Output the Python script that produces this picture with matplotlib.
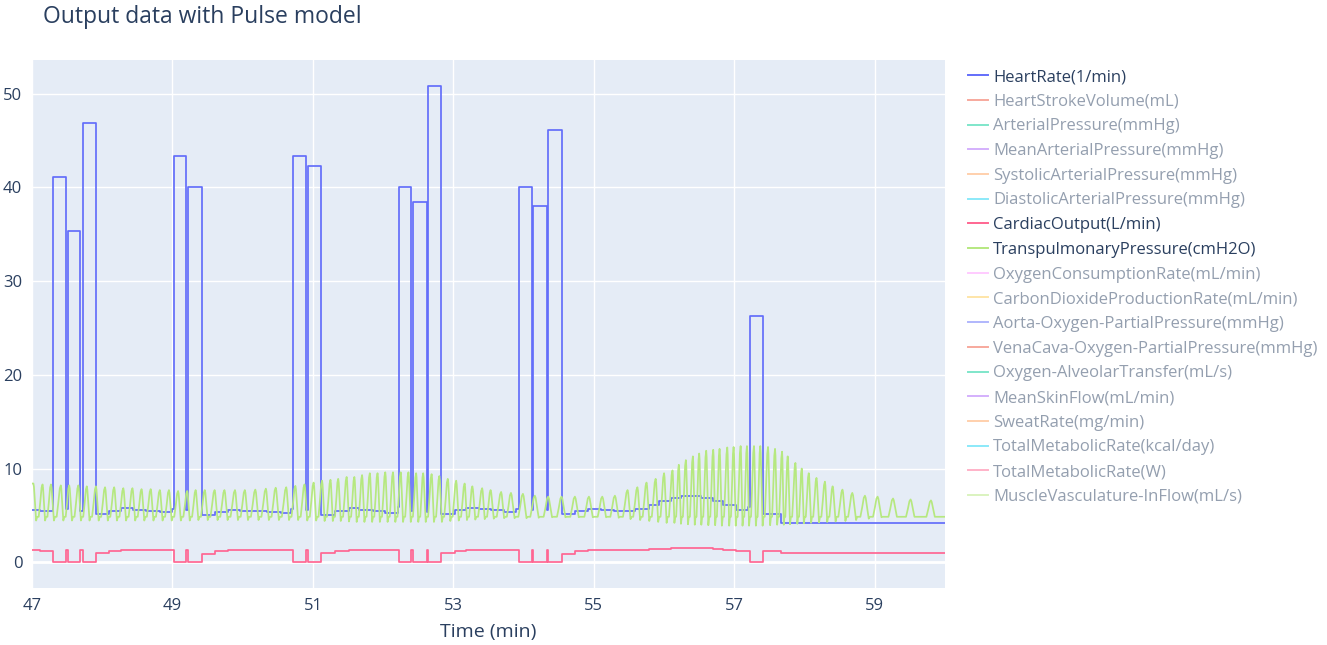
import numpy as np
import matplotlib
matplotlib.use("Agg")
import matplotlib.pyplot as plt
from matplotlib.lines import Line2D

# ---------------------------------------------------------------- data
# Heart rate and cardiac output: piecewise-constant segments (segment start, value)
SEG_START = [47.00, 47.11, 47.30, 47.48, 47.51, 47.69, 47.72, 47.91, 48.10, 48.27,
             48.44, 48.63, 48.82, 48.99, 49.02, 49.19, 49.22, 49.42, 49.60, 49.79,
             49.96, 50.34, 50.55, 50.69, 50.72, 50.90, 50.93, 51.11, 51.31, 51.52,
             51.66, 51.85, 52.03, 52.21, 52.23, 52.40, 52.42, 52.62, 52.64, 52.83,
             53.03, 53.18, 53.37, 53.53, 53.72, 53.89, 53.93, 54.12, 54.14, 54.33,
             54.35, 54.54, 54.73, 54.91, 55.10, 55.28, 55.59, 55.78, 55.93, 56.10,
             56.24, 56.53, 56.69, 56.84, 57.02, 57.19, 57.23, 57.41, 57.66, 60.00]
HEART_RATE = [5.60, 5.45, 41.1, 5.70, 35.3, 5.50, 46.9, 5.18, 5.46, 5.80,
              5.60, 5.46, 5.36, 5.70, 43.4, 5.60, 40.0, 5.00, 5.36, 5.60,
              5.50, 5.40, 5.30, 5.70, 43.4, 5.60, 42.25, 5.00, 5.46, 5.80,
              5.55, 5.45, 5.30, 5.90, 40.0, 5.50, 38.4, 5.40, 50.8, 5.20,
              5.54, 5.80, 5.64, 5.54, 5.36, 5.70, 40.0, 5.60, 38.0, 5.60,
              46.1, 5.10, 5.46, 5.70, 5.60, 5.50, 5.70, 6.10, 6.50, 6.85,
              7.03, 6.85, 6.55, 6.10, 5.55, 5.90, 26.3, 5.18, 4.15, 4.15]
CARDIAC_OUTPUT = [1.28, 1.25, 0.0, 1.30, 0.0, 1.30, 0.0, 1.00, 1.20, 1.35,
                  1.33, 1.30, 1.28, 1.30, 0.0, 1.30, 0.0, 0.93, 1.20, 1.35,
                  1.33, 1.30, 1.28, 1.30, 0.0, 1.30, 0.0, 1.00, 1.20, 1.35,
                  1.35, 1.33, 1.30, 1.35, 0.0, 1.30, 0.0, 1.30, 0.0, 1.00,
                  1.20, 1.35, 1.35, 1.33, 1.30, 1.35, 0.0, 1.30, 0.0, 1.30,
                  0.0, 0.93, 1.20, 1.28, 1.28, 1.28, 1.28, 1.42, 1.42, 1.53,
                  1.53, 1.53, 1.42, 1.28, 1.21, 1.21, 0.0, 1.21, 0.96, 0.96]

# Transpulmonary pressure: one entry per breath (time of peak, peak, trough)
BREATH_T = [47.02, 47.15, 47.27, 47.41, 47.53, 47.66, 47.78, 47.91, 48.04, 48.17,
            48.30, 48.43, 48.56, 48.69, 48.82, 48.95, 49.08, 49.21, 49.33, 49.46,
            49.60, 49.74, 49.89, 50.03, 50.18, 50.33, 50.47, 50.62, 50.75, 50.88,
            51.01, 51.13, 51.25, 51.36, 51.48, 51.59, 51.70, 51.81, 51.92, 52.03,
            52.14, 52.25, 52.36, 52.47, 52.57, 52.69, 52.80, 52.92, 53.04, 53.16,
            53.27, 53.41, 53.53, 53.68, 53.82, 53.99, 54.16, 54.35, 54.54, 54.73,
            54.93, 55.12, 55.30, 55.48, 55.62, 55.75, 55.88, 56.00, 56.12, 56.21,
            56.31, 56.41, 56.50, 56.60, 56.70, 56.79, 56.90, 56.99, 57.09, 57.18,
            57.28, 57.37, 57.48, 57.58, 57.68, 57.76, 57.87, 57.96, 58.06, 58.17,
            58.29, 58.40, 58.54, 58.68, 58.86, 59.04, 59.26, 59.51, 59.80]
BREATH_PEAK = [8.4, 8.3, 8.3, 8.2, 8.2, 8.2, 8.1, 8.1, 8.0, 8.0,
               7.9, 7.9, 7.8, 7.8, 7.7, 7.7, 7.6, 7.6, 7.7, 7.7,
               7.7, 7.7, 7.7, 7.7, 7.75, 7.85, 7.95, 8.0, 8.15, 8.3,
               8.5, 8.7, 8.8, 8.9, 9.1, 9.1, 9.3, 9.5, 9.5, 9.6,
               9.6, 9.6, 9.6, 9.5, 9.5, 9.4, 9.2, 8.9, 8.7, 8.4,
               8.1, 7.9, 7.7, 7.5, 7.4, 7.3, 7.1, 7.0, 7.0, 7.0,
               7.0, 7.0, 7.1, 7.7, 8.0, 8.5, 8.9, 9.5, 9.8, 10.4,
               10.9, 11.3, 11.6, 11.9, 12.0, 12.1, 12.25, 12.3, 12.4, 12.4,
               12.4, 12.4, 12.3, 12.1, 11.8, 11.3, 10.6, 10.0, 9.5, 9.0,
               8.6, 8.1, 7.75, 7.4, 7.1, 7.0, 6.8, 6.7, 6.6]
BREATH_TROUGH = [4.45, 4.45, 4.45, 4.45, 4.45, 4.45, 4.45, 4.45, 4.45, 4.45,
                 4.45, 4.45, 4.45, 4.45, 4.45, 4.45, 4.45, 4.45, 4.5, 4.5,
                 4.5, 4.5, 4.5, 4.5, 4.5, 4.5, 4.5, 4.5, 4.5, 4.45,
                 4.45, 4.4, 4.4, 4.4, 4.35, 4.3, 4.3, 4.3, 4.3, 4.3,
                 4.3, 4.3, 4.3, 4.3, 4.3, 4.3, 4.3, 4.4, 4.45, 4.5,
                 4.55, 4.6, 4.65, 4.7, 4.7, 4.7, 4.75, 4.8, 4.8, 4.8,
                 4.8, 4.8, 4.75, 4.6, 4.5, 4.4, 4.3, 4.2, 4.2, 4.1,
                 4.05, 4.0, 4.0, 3.95, 3.95, 3.9, 3.9, 3.9, 3.9, 3.9,
                 3.9, 3.9, 3.95, 4.0, 4.0, 4.05, 4.1, 4.15, 4.2, 4.25,
                 4.3, 4.35, 4.4, 4.5, 4.65, 4.8, 4.85, 4.85, 4.85]
BREATH_BASE = 4.85
T_START, T_END = 47.0, 60.0

LEGEND_LABELS = ["HeartRate(1/min)", "HeartStrokeVolume(mL)", "ArterialPressure(mmHg)",
                 "MeanArterialPressure(mmHg)", "SystolicArterialPressure(mmHg)",
                 "DiastolicArterialPressure(mmHg)", "CardiacOutput(L/min)",
                 "TranspulmonaryPressure(cmH2O)", "OxygenConsumptionRate(mL/min)",
                 "CarbonDioxideProductionRate(mL/min)", "Aorta-Oxygen-PartialPressure(mmHg)",
                 "VenaCava-Oxygen-PartialPressure(mmHg)", "Oxygen-AlveolarTransfer(mL/s)",
                 "MeanSkinFlow(mL/min)", "SweatRate(mg/min)", "TotalMetabolicRate(kcal/day)",
                 "TotalMetabolicRate(W)", "MuscleVasculature-InFlow(mL/s)"]
SHOWN = {"HeartRate(1/min)", "CardiacOutput(L/min)", "TranspulmonaryPressure(cmH2O)"}

# ---------------------------------------------------------------- style
COLORWAY = ["#636efa", "#EF553B", "#00cc96", "#ab63fa", "#FFA15A",
            "#19d3f3", "#FF6692", "#B6E880", "#FF97FF", "#FECB52"]
TEXT = "#2a3f5f"
FADED_TEXT = "#949faf"
FONT = ["Open Sans", "DejaVu Sans"]
plt.rcParams["font.family"] = FONT

W, H = 1327, 645
fig = plt.figure(figsize=(W / 100, H / 100), dpi=100, facecolor="white")
ax = fig.add_axes([32 / W, 1 - 588 / H, (945 - 32) / W, (588 - 60) / H])
ax.set_facecolor("#E5ECF6")
for s in ax.spines.values():
    s.set_visible(False)


def breath_wave(times, peaks, troughs, base):
    """Expand per-breath peak/trough values into a pressure trace."""
    xs, ys = [T_START], [peaks[0]]
    n = len(times)
    for i in range(n):
        p = times[i]
        prev_gap = p - times[i - 1] if i > 0 else times[1] - times[0]
        next_gap = times[i + 1] - p if i < n - 1 else 0.3
        rise = min(0.42 * prev_gap, 0.065)
        fall = min(0.30 * next_gap, 0.055)
        back = min(0.12 * next_gap, 0.015)
        amp = peaks[i] - base
        if i > 0:
            for fx, fy in zip([-1.0, -0.6, -0.25], [0.0, 0.45, 0.9]):
                xs.append(p + fx * rise)
                ys.append(base + fy * amp)
        xs += [p, p + 0.2 * fall, p + fall, p + fall + back]
        ys += [peaks[i], base + 0.9 * amp, troughs[i], base]
    xs.append(T_END)
    ys.append(base)
    return np.array(xs), np.array(ys)


lw = 1.25
ax.plot(SEG_START, HEART_RATE, drawstyle="steps-post", color=COLORWAY[0], lw=lw, zorder=3)
ax.plot(SEG_START, CARDIAC_OUTPUT, drawstyle="steps-post", color=COLORWAY[6], lw=lw, zorder=4)
bx, by = breath_wave(BREATH_T, BREATH_PEAK, BREATH_TROUGH, BREATH_BASE)
ax.plot(bx, by, color=COLORWAY[7], lw=lw, zorder=5)

ax.set_xlim(T_START, T_END)
ax.set_ylim(-2.75, 53.6)
ax.set_xticks(np.arange(47, 60, 2))
ax.set_yticks(np.arange(0, 51, 10))
ax.grid(True, color="white", lw=1.0, zorder=0)
ax.axhline(0, color="white", lw=2.0, zorder=1)
ax.set_axisbelow(True)
ax.tick_params(length=0, labelsize=12, colors=TEXT, pad=7)
for lab in ax.get_yticklabels():
    lab.set_horizontalalignment("right")
ax.set_xlabel("Time (min)", fontsize=14, color=TEXT, labelpad=7)

fig.text(43 / W, 1 - 17 / H, "Output data with Pulse model", fontsize=16.5,
         color=TEXT, ha="left", va="center")

# legend: three traces drawn, the rest toggled off
handles = []
for i, name in enumerate(LEGEND_LABELS):
    c = COLORWAY[i % len(COLORWAY)]
    handles.append(Line2D([], [], color=c, lw=1.4, alpha=1.0 if name in SHOWN else 0.5))
leg = fig.legend(handles, LEGEND_LABELS, loc="upper left",
                 bbox_to_anchor=(968 / W, 1 - 69 / H), frameon=False,
                 fontsize=12, handlelength=1.2, handletextpad=0.3,
                 labelspacing=0.522, borderpad=0, borderaxespad=0)
for txt in leg.get_texts():
    txt.set_color(TEXT if txt.get_text() in SHOWN else FADED_TEXT)

fig.savefig("out.png", dpi=100, facecolor="white")
